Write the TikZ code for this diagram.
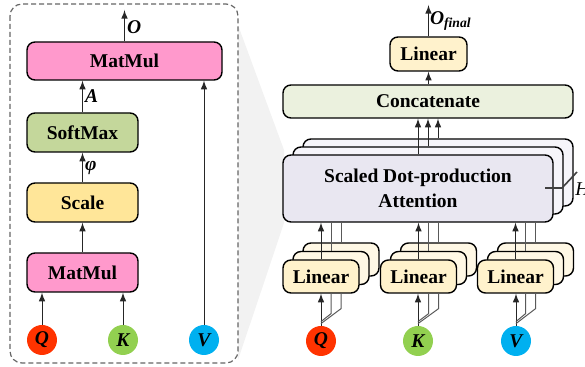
\documentclass[tikz,border=0pt]{standalone}
\usepackage{fontspec}
\setmainfont{Liberation Serif}
\usetikzlibrary{arrows}
\definecolor{mulpink}{RGB}{255, 153, 204}
\definecolor{softgreen}{RGB}{196, 215, 155}
\definecolor{scaleyellow}{RGB}{255, 230, 153}
\definecolor{linyellow}{RGB}{255, 242, 204}
\definecolor{linback}{RGB}{255, 248, 229}
\definecolor{catgreen}{RGB}{235, 241, 222}
\definecolor{attlilac}{RGB}{233, 231, 241}
\definecolor{attback}{RGB}{246, 245, 250}
\definecolor{qred}{RGB}{255, 51, 0}
\definecolor{kgreen}{RGB}{146, 208, 80}
\definecolor{vblue}{RGB}{0, 176, 240}
\definecolor{wedgegray}{RGB}{242, 242, 242}

\begin{document}
\begin{tikzpicture}[x=0.5pt, y=-0.5pt,
    block/.style={draw=black, line width=0.7pt, rounded corners=4pt, inner sep=0pt,
                  font=\fontsize{9.75}{12.5}\selectfont\bfseries},
    inp/.style={circle, inner sep=0pt, minimum size=15pt,
                font=\fontsize{9.75}{11}\selectfont\bfseries\itshape},
    lbl/.style={inner sep=1pt, font=\fontsize{9.75}{11}\selectfont\bfseries\itshape},
    link/.style={-latex, line width=0.5pt, draw=black!85},
    wire/.style={line width=0.5pt, draw=black!65}]
    \useasboundingbox (0,0) rectangle (585,367);

    % Zoom wedge behind the attention block
    \fill[wedgegray] (238,25) -- (284,150) -- (284,223) -- (238,360) -- cycle;
    \draw[gray!80!black, line width=0.6pt, dashed, dash pattern=on 2.5pt off 1.5pt, rounded corners=6pt]
         (10,4) rectangle (238,363);

    % Scaled dot-product attention, inside
    \node[block, fill=mulpink,     minimum width=97.5pt, minimum height=19pt]   (mmtop) at (124.5, 61.0) {MatMul};
    \node[block, fill=softgreen,   minimum width=55.5pt, minimum height=19.5pt] (soft)  at ( 82.5,132.5) {SoftMax};
    \node[block, fill=scaleyellow, minimum width=55.5pt, minimum height=19.5pt] (scale) at ( 82.5,202.5) {Scale};
    \node[block, fill=mulpink,     minimum width=55.5pt, minimum height=19.5pt] (mmlow) at ( 82.5,272.5) {MatMul};
    \node[inp, fill=qred]   (q) at ( 42,340) {Q};
    \node[inp, fill=kgreen] (k) at (123,340) {K};
    \node[inp, fill=vblue]  (v) at (204,340) {V};
    \coordinate (oout) at (124.5,10);

    \draw[link] (q.north) -- (q.north |- mmlow.south);
    \draw[link] (k.north) -- (k.north |- mmlow.south);
    \draw[link] (v.north) -- (v.north |- mmtop.south);
    \draw[link] (mmlow.north) -- (scale.south);
    \draw[link] (scale.north) -- (soft.south) node[lbl, midway, right] (phi) {φ};
    \draw[link] (soft.north) -- (soft.north |- mmtop.south) node[lbl, midway, right] (amat) {A};
    \draw[link] (mmtop.north) -- (oout) node[lbl, pos=0.45, right] (omat) {O};

    % Multi-head attention
    \node[block, fill=attback,  minimum width=135pt, minimum height=33.5pt] (att3) at (438,172.5) {};
    \node[block, fill=attback,  minimum width=135pt, minimum height=33.5pt] (att2) at (428,180.5) {};
    \node[block, fill=attlilac, minimum width=135pt, minimum height=33.5pt, align=center] (att1) at (418,188.5)
         {Scaled Dot-production\\Attention};
    \node[block, fill=catgreen,  minimum width=145pt,  minimum height=16.5pt] (cat)    at (428.0,101.5) {Concatenate};
    \node[block, fill=linyellow, minimum width=38.5pt, minimum height=17pt]   (lintop) at (428.5, 54.0) {Linear};
    \coordinate (ofinal) at (428.5,5);

    \foreach \n/\x in {q/321, k/418.5, v/515.5} {
        \node[block, fill=linback,   minimum width=38pt, minimum height=16.5pt] (lin\n3) at (\x+20,259.5) {};
        \node[block, fill=linback,   minimum width=38pt, minimum height=16.5pt] (lin\n2) at (\x+10,268.0) {};
        \node[block, fill=linyellow, minimum width=38pt, minimum height=16.5pt] (lin\n1) at (\x,   276.5) {Linear};
    }
    \node[inp, fill=qred]   (qr) at (321,341) {Q};
    \node[inp, fill=kgreen] (kr) at (418,341) {K};
    \node[inp, fill=vblue]  (vr) at (516,341) {V};

    % Inputs fanned out to the heads
    \foreach \n in {q, k, v} {
        \draw[link] (\n r.north) -- (\n r.north |- lin\n1.south);
        \draw[wire] ([yshift=2pt]\n r.north) -- ([xshift=5pt, yshift=-10pt]lin\n1.south) -- ([xshift=5pt]lin\n1.south);
        \draw[wire] ([yshift=1pt]\n r.north) -- ([xshift=10pt, yshift=-7.5pt]lin\n1.south) -- ([xshift=10pt]lin\n1.south);
        \draw[link] (lin\n1.north) -- (lin\n1.north |- att1.south);
        \draw[wire] (lin\n2.north) -- (lin\n2.north |- att1.south);
        \draw[wire] (lin\n3.north) -- (lin\n3.north |- att1.south);
    }

    \draw[link] (att1.north) -- (att1.north |- cat.south);
    \draw[link] (att2.north) -- (att2.north |- cat.south);
    \draw[link] (att3.north) -- (att3.north |- cat.south);
    \draw[link] (cat.north -| lintop) -- (lintop.south);
    \draw[link] (lintop.north) -- (ofinal)
         node[lbl, pos=0.5, right, inner sep=0.5pt] (ofin) {O\textsubscript{final}};

    % Head count marker
    \draw[line width=0.8pt, black!75] (545,188) -- (562,188) -- (577,172);
    \node[anchor=west, inner sep=0pt, font=\fontsize{9.75}{11}\selectfont\itshape] (hnum) at (575,189) {H};
\end{tikzpicture}
\end{document}
